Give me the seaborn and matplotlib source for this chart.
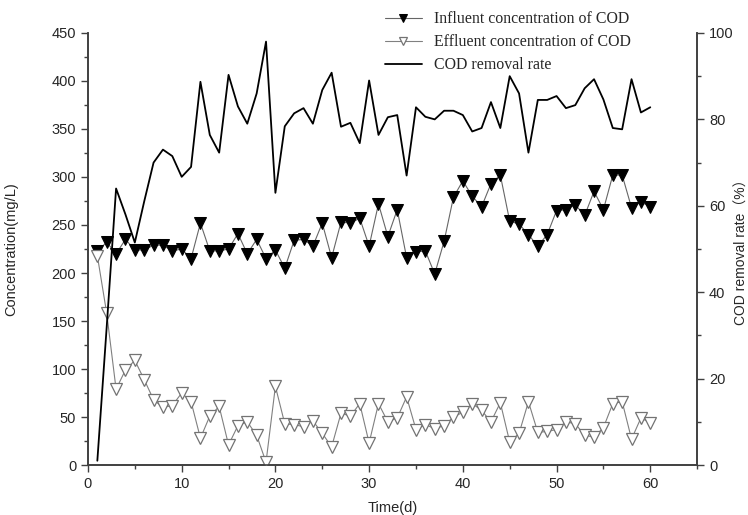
import matplotlib
matplotlib.use('Agg')
import matplotlib.pyplot as plt
import matplotlib.ticker as ticker
import seaborn as sns
import pandas as pd

# values (day 1 .. 60)
days = list(range(1, 61))
influent = [223, 232, 220, 235, 224, 224, 229, 229, 223, 225,
            215, 252, 223, 223, 225, 241, 220, 235, 215, 224,
            205, 234, 235, 228, 252, 216, 253, 252, 257, 228,
            272, 238, 266, 216, 222, 223, 199, 233, 279, 296,
            280, 269, 293, 302, 254, 251, 240, 228, 240, 265,
            266, 271, 260, 285, 266, 302, 302, 268, 274, 269]
effluent = [218, 158, 79, 99, 109, 89, 68, 60, 62, 75,
            66, 28, 51, 61, 21, 41, 45, 31, 3, 82,
            43, 42, 40, 46, 33, 19, 54, 51, 64, 23,
            64, 45, 49, 71, 37, 42, 38, 41, 50, 55,
            64, 57, 45, 65, 24, 33, 66, 34, 35, 37,
            45, 43, 31, 29, 39, 64, 66, 27, 49, 44]
removal = [1, 32, 64, 58, 51.5, 61, 70, 73, 71.5, 66.7,
           69, 88.7, 76.4, 72.3, 90.3, 83, 79, 86, 98, 63,
           78.4, 81.4, 82.6, 79, 86.8, 90.8, 78.3, 79.2, 74.5, 89,
           76.4, 80.5, 81, 67, 82.8, 80.6, 80, 82, 82, 81,
           77.2, 78, 84, 78, 90, 86, 72.3, 84.5, 84.5, 85.4,
           82.6, 83.3, 87.2, 89.3, 84.6, 78, 77.7, 89.3, 81.6, 82.8]

df = pd.DataFrame({'day': days, 'inf': influent, 'eff': effluent, 'rate': removal})

sns.set_style('ticks')
plt.rcParams['font.family'] = ['Liberation Sans', 'Noto Sans CJK SC']

fig = plt.figure(figsize=(7.48, 5.15), dpi=100)
ax = fig.add_axes([0.1176, 0.097, 0.8144, 0.839])
ax2 = ax.twinx()

sns.lineplot(data=df, x='day', y='inf', ax=ax, color='0.4', lw=0.8,
             marker='v', markersize=9, markerfacecolor='black',
             markeredgecolor='black', legend=False, zorder=3)
sns.lineplot(data=df, x='day', y='eff', ax=ax, color='0.5', lw=0.8,
             marker='v', markersize=9, markerfacecolor='white',
             markeredgecolor='0.45', markeredgewidth=0.9, legend=False, zorder=3)
sns.lineplot(data=df, x='day', y='rate', ax=ax2, color='black', lw=1.3,
             legend=False, zorder=2)

ax.set_xlim(0, 65)
ax.set_ylim(0, 450)
ax2.set_ylim(0, 100)

ax.xaxis.set_major_locator(ticker.MultipleLocator(10))
ax.xaxis.set_minor_locator(ticker.MultipleLocator(5))
ax.yaxis.set_major_locator(ticker.MultipleLocator(50))
ax.yaxis.set_minor_locator(ticker.MultipleLocator(25))
ax2.yaxis.set_major_locator(ticker.MultipleLocator(20))
ax2.yaxis.set_minor_locator(ticker.MultipleLocator(10))

for a in (ax, ax2):
    a.spines['top'].set_visible(False)
    for s in a.spines.values():
        s.set_color('0.25')
        s.set_linewidth(1.2)
    a.tick_params(which='major', direction='out', length=5, width=1, labelsize=10.5, color='0.25')
    a.tick_params(which='minor', direction='out', length=3, width=1, color='0.25')

ax.set_xlabel('Time(d)', fontsize=10.5)
ax.xaxis.set_label_coords(0.5, -0.083)
ax.set_ylabel('Concentration(mg/L)', fontsize=10.5)
ax.yaxis.set_label_coords(-0.115, 0.5)
ax2.set_ylabel('COD removal rate（%）', fontsize=10)
ax2.yaxis.set_label_coords(1.062, 0.5)

h1 = ax.lines[0]
h2 = ax.lines[1]
h3 = ax2.lines[0]
fig.legend([h1, h2, h3],
           ['Influent concentration of COD', 'Effluent concentration of COD', 'COD removal rate'],
           loc='upper left', bbox_to_anchor=(0.496, 1.006), frameon=False,
           prop={'family': 'Liberation Serif', 'size': 11.4},
           handlelength=2.3, handletextpad=0.8, labelspacing=0.45, markerscale=0.6)

fig.savefig('out.png', dpi=100)
